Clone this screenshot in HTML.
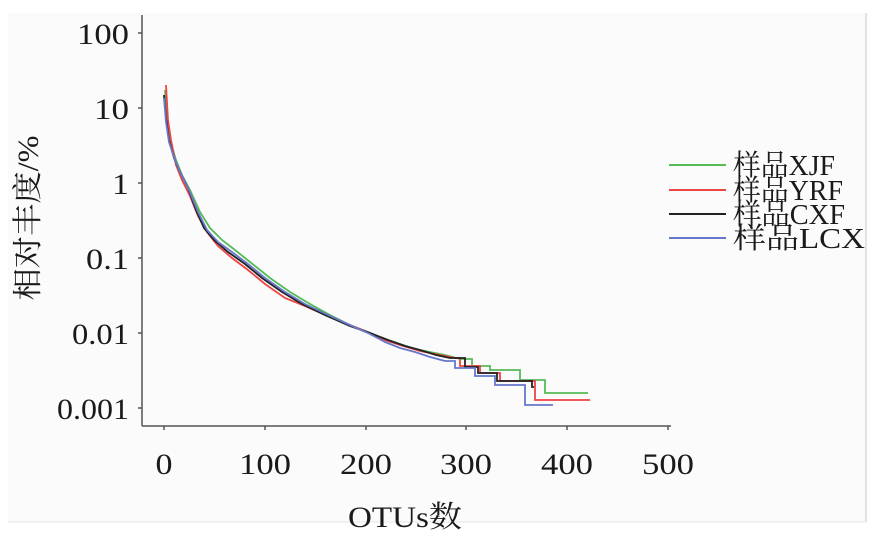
<!DOCTYPE html>
<html><head><meta charset="utf-8"><style>
html,body{margin:0;padding:0;background:#fff;}
svg{display:block;}
text{font-family:"Liberation Serif","Noto Serif CJK SC",serif;fill:#1a1a1a;}
</style></head><body>
<svg width="883" height="542" viewBox="0 0 883 542">
<rect x="8" y="13" width="858" height="509" fill="#fbfbfb"/>
<line x1="866" y1="13" x2="866" y2="522" stroke="#e2e2e2" stroke-width="2"/>
<line x1="8" y1="522" x2="866" y2="522" stroke="#e6e6e6" stroke-width="1"/>
<line x1="142" y1="15" x2="142" y2="426" stroke="#555" stroke-width="1.5"/>
<line x1="142" y1="426" x2="671" y2="426" stroke="#555" stroke-width="1.5"/>
<g stroke="#555" stroke-width="1.5">
<line x1="138" y1="33" x2="142" y2="33"/><line x1="138" y1="108" x2="142" y2="108"/>
<line x1="138" y1="183" x2="142" y2="183"/><line x1="138" y1="258" x2="142" y2="258"/>
<line x1="138" y1="333" x2="142" y2="333"/><line x1="138" y1="408" x2="142" y2="408"/>
<line x1="164" y1="426" x2="164" y2="430"/><line x1="265" y1="426" x2="265" y2="430"/>
<line x1="366" y1="426" x2="366" y2="430"/><line x1="466" y1="426" x2="466" y2="430"/>
<line x1="567" y1="426" x2="567" y2="430"/><line x1="668" y1="426" x2="668" y2="430"/>
</g>
<g font-size="30" text-anchor="end" lengthAdjust="spacingAndGlyphs">
<text x="129" y="44" textLength="52" lengthAdjust="spacingAndGlyphs">100</text>
<text x="129" y="119" textLength="35" lengthAdjust="spacingAndGlyphs">10</text>
<text x="129" y="194" textLength="17" lengthAdjust="spacingAndGlyphs">1</text>
<text x="129" y="269" textLength="43" lengthAdjust="spacingAndGlyphs">0.1</text>
<text x="129" y="344" textLength="57" lengthAdjust="spacingAndGlyphs">0.01</text>
<text x="129" y="419" textLength="72" lengthAdjust="spacingAndGlyphs">0.001</text>
</g>
<g font-size="30" text-anchor="middle">
<text x="164" y="474" textLength="17" lengthAdjust="spacingAndGlyphs">0</text>
<text x="265" y="474" textLength="52" lengthAdjust="spacingAndGlyphs">100</text>
<text x="366" y="474" textLength="52" lengthAdjust="spacingAndGlyphs">200</text>
<text x="466" y="474" textLength="52" lengthAdjust="spacingAndGlyphs">300</text>
<text x="567" y="474" textLength="52" lengthAdjust="spacingAndGlyphs">400</text>
<text x="668" y="474" textLength="52" lengthAdjust="spacingAndGlyphs">500</text>
</g>
<text x="405" y="527" font-size="30" text-anchor="middle" textLength="114" lengthAdjust="spacingAndGlyphs">OTUs数</text>
<text transform="translate(38,218) rotate(-90)" font-size="30" text-anchor="middle" textLength="165" lengthAdjust="spacingAndGlyphs">相对丰度/%</text>
<g fill="none" stroke-width="1.8">
<polyline stroke="#55bb55" points="165,90 167,120 170,140 176,160 182,175 190,190 200,212 210,228 222,240 235,250 250,262 270,278 290,292 310,304 330,315 352,326 370,333 385,339 400,344 415,349 430,352 445,355 460,359 472,359 472,366 490,366 490,370 520,370 520,380 545,380 545,393 588,393"/>
<polyline stroke="#ee4444" points="166,85 168,120 171,140 176,165 182,180 190,196 198,216 207,232 218,246 232,258 248,270 265,284 285,298 305,306 330,317 355,327 370,333 385,340 400,345 420,351 440,355 455,358 460,358 460,366 480,366 480,373 500,373 500,381 535,381 535,400 590,400"/>
<polyline stroke="#222222" points="164,95 166,118 169,140 174,158 180,172 188,188 196,210 204,228 214,240 228,252 245,264 262,278 282,292 302,304 325,315 350,326 370,333 388,340 405,346 420,350 436,355 450,358 465,358 465,367 478,367 478,373 497,373 497,381 532,381 532,387 534,387"/>
<polyline stroke="#6677cc" points="164,98 166,122 169,142 175,160 181,174 189,190 198,212 207,230 218,242 232,252 248,264 265,278 285,292 305,304 328,315 352,326 368,333 385,342 400,348 415,352 430,357 445,361 455,361 455,368 475,368 475,376 495,376 495,385 525,385 525,405 553,405"/>
</g>
<g stroke-width="2">
<line x1="669" y1="165" x2="726" y2="165" stroke="#55bb55"/>
<line x1="669" y1="190" x2="726" y2="190" stroke="#ee4444"/>
<line x1="669" y1="214" x2="726" y2="214" stroke="#222222"/>
<line x1="669" y1="238" x2="726" y2="238" stroke="#6677cc"/>
</g>
<g font-size="29">
<text x="733" y="175" textLength="102" lengthAdjust="spacingAndGlyphs">样品XJF</text>
<text x="733" y="200" textLength="110" lengthAdjust="spacingAndGlyphs">样品YRF</text>
<text x="733" y="224" textLength="112" lengthAdjust="spacingAndGlyphs">样品CXF</text>
<text x="733" y="248" textLength="132" lengthAdjust="spacingAndGlyphs">样品LCX</text>
</g>
</svg>
</body></html>
